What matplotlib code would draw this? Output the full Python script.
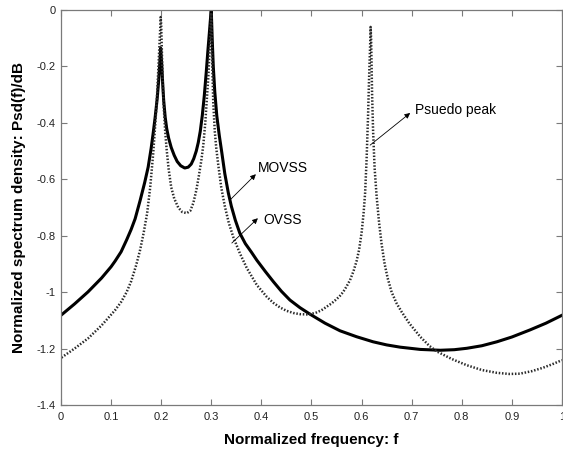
import matplotlib
matplotlib.use("Agg")
import matplotlib.pyplot as plt

plt.rcParams['font.family'] = ['Liberation Sans', 'DejaVu Sans']

# MOVSS spectrum (solid)
movss_f = [0.0, 0.027, 0.054, 0.081, 0.100, 0.108, 0.120, 0.131, 0.140, 0.148, 0.158,
           0.167, 0.174, 0.180, 0.184, 0.188, 0.192, 0.195, 0.197, 0.199,
           0.201, 0.203, 0.205, 0.208, 0.211, 0.215, 0.220, 0.226, 0.232, 0.239,
           0.247, 0.254, 0.260, 0.265, 0.270, 0.274, 0.278, 0.282, 0.286, 0.290,
           0.293, 0.296, 0.298, 0.2995, 0.300,
           0.3005, 0.302, 0.304, 0.307, 0.311, 0.316, 0.321, 0.327, 0.334, 0.340,
           0.348, 0.357, 0.368, 0.380, 0.391, 0.408, 0.424, 0.440, 0.457, 0.477,
           0.497, 0.527, 0.557, 0.590, 0.623, 0.650, 0.677, 0.717, 0.757, 0.785,
           0.810, 0.840, 0.870, 0.900, 0.936, 0.968, 1.0]
movss_psd = [-1.082, -1.042, -0.999, -0.950, -0.910, -0.890, -0.857, -0.815, -0.778, -0.740, -0.675,
             -0.612, -0.557, -0.490, -0.437, -0.380, -0.315, -0.250, -0.195, -0.135,
             -0.190, -0.260, -0.320, -0.380, -0.420, -0.455, -0.487, -0.515, -0.537, -0.552,
             -0.560, -0.557, -0.546, -0.527, -0.500, -0.470, -0.430, -0.375, -0.305, -0.220,
             -0.150, -0.085, -0.040, -0.010, 0.0,
             -0.030, -0.110, -0.200, -0.290, -0.375, -0.445, -0.505, -0.580, -0.648, -0.695,
             -0.745, -0.791, -0.828, -0.858, -0.887, -0.927, -0.963, -0.997, -1.028, -1.055,
             -1.078, -1.110, -1.137, -1.158, -1.176, -1.187, -1.195, -1.203, -1.206, -1.204,
             -1.199, -1.190, -1.176, -1.159, -1.134, -1.110, -1.082]

# OVSS spectrum (dotted)
ovss_f = [0.001, 0.027, 0.054, 0.081, 0.108, 0.120, 0.131, 0.140, 0.150, 0.158,
          0.165, 0.172, 0.178, 0.184, 0.188, 0.191, 0.194, 0.196, 0.198, 0.199,
          0.200, 0.201, 0.203, 0.205, 0.208, 0.211, 0.215, 0.220, 0.226, 0.234,
          0.242, 0.251, 0.258, 0.264, 0.270, 0.275, 0.280, 0.284, 0.288, 0.291,
          0.294, 0.296, 0.298, 0.2995, 0.300,
          0.301, 0.302, 0.304, 0.307, 0.310, 0.314, 0.320, 0.327, 0.335, 0.344,
          0.357, 0.371, 0.391, 0.411, 0.424, 0.437, 0.450, 0.464, 0.477, 0.490,
          0.500, 0.510, 0.520, 0.530, 0.540, 0.548, 0.556, 0.563, 0.570, 0.577,
          0.584, 0.590, 0.595, 0.600, 0.604, 0.607, 0.610, 0.613, 0.615, 0.617,
          0.618,
          0.619, 0.620, 0.621, 0.623, 0.626, 0.630, 0.635, 0.640, 0.646, 0.652,
          0.660, 0.670, 0.680, 0.695, 0.717, 0.735, 0.750, 0.780, 0.810, 0.840,
          0.870, 0.895, 0.916, 0.940, 0.962, 0.980, 1.0]
ovss_psd = [-1.232, -1.200, -1.164, -1.118, -1.064, -1.035, -1.000, -0.962, -0.905, -0.850,
            -0.790, -0.720, -0.630, -0.510, -0.410, -0.330, -0.220, -0.145, -0.070, -0.025,
            -0.050, -0.120, -0.250, -0.340, -0.430, -0.496, -0.565, -0.628, -0.668, -0.700,
            -0.716, -0.720, -0.712, -0.685, -0.640, -0.590, -0.535, -0.480, -0.400, -0.320,
            -0.240, -0.170, -0.090, -0.030, -0.010,
            -0.100, -0.200, -0.330, -0.430, -0.490, -0.550, -0.630, -0.695, -0.755, -0.805,
            -0.862, -0.915, -0.975, -1.017, -1.038, -1.054, -1.066, -1.074, -1.078, -1.079,
            -1.077, -1.072, -1.064, -1.052, -1.040, -1.028, -1.015, -1.000, -0.980, -0.957,
            -0.925, -0.890, -0.850, -0.790, -0.720, -0.650, -0.530, -0.370, -0.240, -0.130,
            -0.060,
            -0.100, -0.200, -0.300, -0.430, -0.560, -0.660, -0.755, -0.830, -0.900, -0.950,
            -1.000, -1.040, -1.070, -1.110, -1.158, -1.190, -1.210, -1.237, -1.259, -1.276,
            -1.286, -1.290, -1.289, -1.280, -1.268, -1.256, -1.241]

x_ticks = [0, 0.1, 0.2, 0.3, 0.4, 0.5, 0.6, 0.7, 0.8, 0.9, 1]
x_tick_labels = ['0', '0.1', '0.2', '0.3', '0.4', '0.5', '0.6', '0.7', '0.8', '0.9', '1']
y_ticks = [0, -0.2, -0.4, -0.6, -0.8, -1.0, -1.2, -1.4]
y_tick_labels = ['0', '-0.2', '-0.4', '-0.6', '-0.8', '-1', '-1.2', '-1.4']

fig = plt.figure(figsize=(5.63, 4.51), dpi=100)
ax = fig.add_axes([0.1083, 0.102, 0.8899, 0.8758])

ax.plot(movss_f, movss_psd, color='black', lw=2.2, solid_joinstyle='round')
ax.plot(ovss_f, ovss_psd, color='#2a2a2a', lw=1.8, linestyle=(0, (0.6, 0.7)),
        dash_capstyle='butt')

ax.set_xlim(0, 1)
ax.set_ylim(-1.4, 0)
ax.set_xticks(x_ticks)
ax.set_xticklabels(x_tick_labels)
ax.set_yticks(y_ticks)
ax.set_yticklabels(y_tick_labels)

for s in ax.spines.values():
    s.set_color('#7a7a7a')
    s.set_linewidth(0.9)
ax.tick_params(direction='in', length=4, width=0.8, color='#7a7a7a',
               labelsize=8, labelcolor='#222222', top=True, right=True)
ax.tick_params(axis='x', pad=5)
ax.tick_params(axis='y', pad=4)

ax.set_xlabel('Normalized frequency: f', fontsize=11, fontweight='bold', labelpad=8)
ax.set_ylabel('Normalized spectrum density: Psd(f)/dB', fontsize=11,
              fontweight='bold', labelpad=7)

arrow = dict(arrowstyle='-|>', lw=0.6, color='black', mutation_scale=8,
             shrinkA=0, shrinkB=0)
ax.annotate('', xy=(0.389, -0.582), xytext=(0.337, -0.674), arrowprops=arrow)
ax.text(0.393, -0.56, 'MOVSS', fontsize=10, va='center', ha='left')
ax.annotate('', xy=(0.393, -0.738), xytext=(0.341, -0.826), arrowprops=arrow)
ax.text(0.403, -0.745, 'OVSS', fontsize=10, va='center', ha='left')
ax.annotate('', xy=(0.697, -0.365), xytext=(0.617, -0.479), arrowprops=arrow)
ax.text(0.707, -0.355, 'Psuedo peak', fontsize=10, va='center', ha='left')

fig.savefig('out.png', dpi=100)
